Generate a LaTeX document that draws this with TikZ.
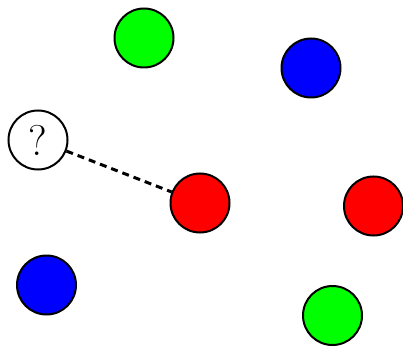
\documentclass[tikz,border=0pt]{standalone}
\begin{document}
\begin{tikzpicture}[x=1pt,y=-1pt,
  ball/.style={circle,draw=black,line width=2pt,minimum size=59pt,inner sep=0pt},
  link/.style={line width=3pt,dash pattern=on 7pt off 5pt}]
\useasboundingbox (0,0) rectangle (403,347);
\node[ball,fill=green] (g1) at (144,38) {};
\node[ball,fill=blue] (b1) at (311,68) {};
\node[ball,fill=white,font=\fontsize{43}{43}\selectfont] (q) at (38,140) {?};
\node[ball,fill=red] (r1) at (200,203) {};
\node[ball,fill=red] (r2) at (373.5,206) {};
\node[ball,fill=blue] (b2) at (46.5,285) {};
\node[ball,fill=green] (g2) at (332.5,315.5) {};
\draw[link] (q) -- (r1);
\end{tikzpicture}
\end{document}
